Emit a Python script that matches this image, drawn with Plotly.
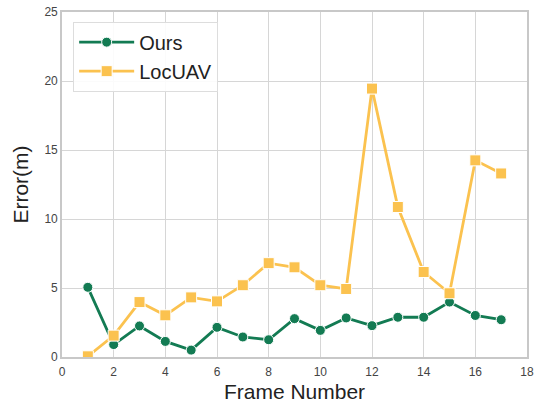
import plotly.graph_objects as go

frames = list(range(1, 18))
ours = [5.05, 0.9, 2.25, 1.13, 0.5, 2.15, 1.45, 1.25, 2.78, 1.93, 2.83, 2.27, 2.88, 2.88, 3.98, 3.01, 2.7]
locuav = [0.05, 1.55, 3.98, 3.02, 4.32, 4.03, 5.2, 6.8, 6.5, 5.2, 4.93, 19.45, 10.87, 6.16, 4.62, 14.25, 13.3]

x_ticks = [0, 2, 4, 6, 8, 10, 12, 14, 16, 18]
y_ticks = [0, 5, 10, 15, 20, 25]

green = "#137b53"
yellow = "#fbc24f"

fig = go.Figure()
fig.add_trace(go.Scatter(
    x=frames, y=ours, mode="lines+markers", name="Ours",
    line=dict(color=green, width=2.8),
    marker=dict(symbol="circle", size=10, color=green, line=dict(color="white", width=1)),
))
fig.add_trace(go.Scatter(
    x=frames, y=locuav, mode="lines+markers", name="LocUAV",
    line=dict(color=yellow, width=2.8),
    marker=dict(symbol="square", size=11, color=yellow, line=dict(color="white", width=1)),
))

axis_common = dict(
    showgrid=True, gridcolor="#d6d6d6", gridwidth=1,
    showline=True, linecolor="#c8c8c8", linewidth=1.6, mirror=True,
    zeroline=False, ticks="", automargin=False, ticklabeloverflow="allow",
    tickfont=dict(family="Arial, Liberation Sans", size=12, color="#444444"),
)

fig.update_layout(
    width=542, height=405,
    margin=dict(l=62, r=15, t=12, b=48, autoexpand=False),
    paper_bgcolor="white", plot_bgcolor="white",
    font=dict(family="Arial, Liberation Sans"),
    xaxis=dict(range=[0, 18], tickvals=x_ticks, ticktext=[str(v) for v in x_ticks],
               title=dict(text="Frame Number", font=dict(size=21, color="#222222"), standoff=6),
               ticklabelstandoff=3,
               **axis_common),
    yaxis=dict(range=[0, 25], tickvals=y_ticks, ticktext=[str(v) for v in y_ticks],
               title=dict(text="Error(m)", font=dict(size=21, color="#222222"), standoff=10),
               **axis_common),
    legend=dict(x=0.024, y=0.972, xanchor="left", yanchor="top",
                bgcolor="rgba(255,255,255,0.9)", bordercolor="#dddddd", borderwidth=1,
                font=dict(size=20, color="#222222"), itemwidth=55, tracegroupgap=2),
    showlegend=True,
)

fig.write_html("out.html", config={"displayModeBar": False},
               post_script="document.body.style.margin='0';")
